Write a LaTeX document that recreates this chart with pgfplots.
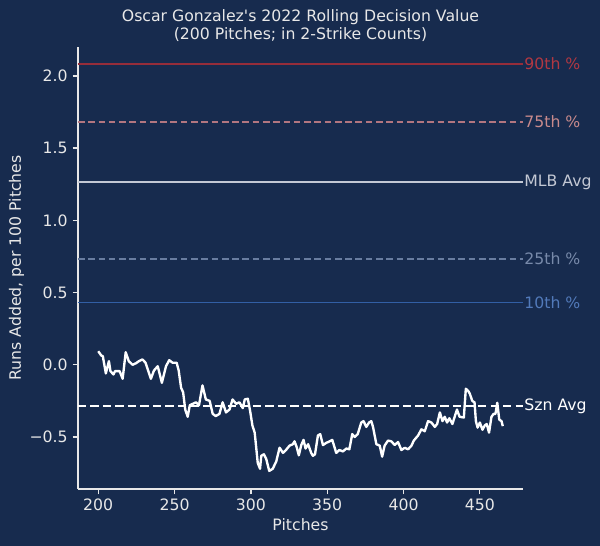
\documentclass[border=0pt]{standalone}
\usepackage{pgfplots}
\pgfplotsset{compat=1.18}
\usepackage{fontspec}
\setmainfont{DejaVu Sans}[Ligatures=TeXOff]
\definecolor{bg}{RGB}{23,43,78}
\definecolor{fg}{RGB}{232,232,232}
\definecolor{c90}{RGB}{150,45,58}
\definecolor{t90}{RGB}{178,56,66}
\definecolor{c75}{RGB}{178,118,128}
\definecolor{t75}{RGB}{200,138,140}
\definecolor{cmlb}{RGB}{195,200,212}
\definecolor{c25}{RGB}{105,125,160}
\definecolor{t25}{RGB}{120,138,170}
\definecolor{c10}{RGB}{50,95,165}
\definecolor{t10}{RGB}{82,122,186}
\newcommand{\fs}{\fontsize{11.3}{13}\selectfont}
\begin{document}
\begin{tikzpicture}[x=1pt,y=1pt]
\path[use as bounding box] (0,0) rectangle (432,393.12);
\fill[bg] (0,0) rectangle (432,393.12);
\node[anchor=base, text=fg, font=\fs, inner sep=0pt] at (216.36,377.5) {Oscar Gonzalez's 2022 Rolling Decision Value};
\node[anchor=base, text=fg, font=\fs, inner sep=0pt] at (216.36,364.8) {(200 Pitches; in 2-Strike Counts)};
\begin{axis}[
  at={(56.16pt,41.04pt)}, anchor=south west,
  scale only axis, width=320.4pt, height=318.24pt,
  xmin=186.75, xmax=478.25, ymin=-0.86, ymax=2.20,
  axis x line*=bottom, axis y line*=left,
  axis line style={fg, line width=0.9pt},
  tick style={fg, line width=0.9pt},
  major tick length=3.9pt, tick align=outside,
  xtick={200,250,300,350,400,450},
  ytick={-0.5,0,0.5,1,1.5,2},
  yticklabels={−0.5,0.0,0.5,1.0,1.5,2.0},
  /pgf/number format/assume math mode=true,
  ticklabel style={font=\fs, text=fg},
  xlabel={Pitches}, ylabel={Runs Added, per 100 Pitches},
  label style={font=\fs, text=fg},
  xlabel style={at={(axis description cs:0.5,-0.081)}, anchor=center},
  ylabel style={at={(axis description cs:-0.138,0.5)}, anchor=center},
  clip=false,
]
\addplot[c90, line width=1.3pt] coordinates {(186.75,2.083) (478.25,2.083)};
\addplot[c75, line width=1.3pt, dash pattern=on 4.8pt off 2.6pt] coordinates {(186.75,1.682) (478.25,1.682)};
\addplot[cmlb, line width=1.3pt] coordinates {(186.75,1.265) (478.25,1.265)};
\addplot[c25, line width=1.3pt, dash pattern=on 4.8pt off 2.6pt] coordinates {(186.75,0.732) (478.25,0.732)};
\addplot[c10, line width=1.3pt] coordinates {(186.75,0.431) (478.25,0.431)};
\addplot[white, line width=1.5pt, dash pattern=on 5.8pt off 3.2pt] coordinates {(186.75,-0.286) (478.25,-0.286)};
\addplot[white, line width=1.7pt, line join=round] coordinates {
(200,0.094) (202,0.064) (203,0.06) (205,-0.06) (207,0.025) (208,-0.044) (210,-0.067) (211,-0.044) (214,-0.044) (216,-0.097) (218,0.087) (220,0.025) (222.5,0.0) (224.6,0.01) (226.7,0.025) (229,0.037) (231,0.014) (234.5,-0.097) (236.5,-0.04) (239,-0.01) (241.7,-0.125) (244.4,-0.01) (246.5,0.032) (248.7,0.014) (251.4,0.014) (252.7,-0.04) (254.3,-0.16) (255.6,-0.19) (257,-0.31) (258.6,-0.36) (260,-0.28) (262,-0.27) (264,-0.26) (266,-0.28) (268.3,-0.143) (270.5,-0.24) (273,-0.25) (275,-0.34) (277,-0.355) (279.4,-0.34) (281.5,-0.26) (283.7,-0.33) (286,-0.31) (288,-0.24) (290.3,-0.27) (292.5,-0.26) (294.7,-0.30) (296,-0.24) (298,-0.235) (299.5,-0.32) (301,-0.42) (302.5,-0.47) (304.5,-0.68) (306,-0.72) (306.8,-0.63) (308.5,-0.62) (310,-0.65) (312,-0.735) (314.3,-0.72) (316.6,-0.67) (318.8,-0.574) (321,-0.61) (323,-0.59) (325.3,-0.56) (327.5,-0.55) (328.6,-0.53) (330,-0.57) (331.4,-0.627) (333,-0.556) (334.5,-0.52) (335.8,-0.58) (337.5,-0.55) (339.5,-0.61) (340.6,-0.63) (342,-0.62) (343.9,-0.49) (345.4,-0.48) (347.2,-0.556) (349.5,-0.54) (351.6,-0.53) (353.3,-0.52) (354.9,-0.575) (355.9,-0.61) (358,-0.59) (360.3,-0.6) (362.5,-0.58) (364.5,-0.585) (366.4,-0.48) (368,-0.5) (370,-0.48) (372.3,-0.40) (373.8,-0.39) (375.6,-0.43) (377.4,-0.40) (378.9,-0.39) (380,-0.43) (382.2,-0.55) (384.4,-0.56) (386,-0.636) (387.6,-0.56) (389.8,-0.525) (392,-0.53) (394.2,-0.555) (396.4,-0.535) (398.6,-0.59) (400.8,-0.575) (403,-0.585) (405.2,-0.56) (406.7,-0.525) (409.5,-0.49) (411.7,-0.447) (413.9,-0.46) (416.1,-0.39) (418.3,-0.40) (420.5,-0.43) (422,-0.41) (423.8,-0.33) (425.5,-0.39) (427,-0.36) (428.5,-0.40) (430,-0.37) (432,-0.41) (433.5,-0.36) (435,-0.31) (436.7,-0.36) (439.5,-0.365) (440.8,-0.166) (442.3,-0.18) (443.4,-0.2) (445,-0.25) (446.5,-0.26) (447.4,-0.39) (448.5,-0.435) (450,-0.40) (451.7,-0.45) (453.2,-0.42) (454.5,-0.41) (456,-0.47) (457.6,-0.36) (459,-0.34) (460.2,-0.34) (461.4,-0.263) (462.7,-0.38) (464.2,-0.39) (465,-0.425)
};
\node[anchor=west, inner sep=0pt, xshift=0.8pt, text=t90, font=\fs] at (axis cs:478.25,2.083) {90th \%};
\node[anchor=west, inner sep=0pt, xshift=0.8pt, text=t75, font=\fs] at (axis cs:478.25,1.682) {75th \%};
\node[anchor=west, inner sep=0pt, xshift=0.8pt, text=cmlb, font=\fs] at (axis cs:478.25,1.265) {MLB Avg};
\node[anchor=west, inner sep=0pt, xshift=0.8pt, text=t25, font=\fs] at (axis cs:478.25,0.732) {25th \%};
\node[anchor=west, inner sep=0pt, xshift=0.8pt, text=t10, font=\fs] at (axis cs:478.25,0.431) {10th \%};
\node[anchor=west, inner sep=0pt, xshift=0.8pt, text=white, font=\fs] at (axis cs:478.25,-0.286) {Szn Avg};
\end{axis}
\end{tikzpicture}
\end{document}
